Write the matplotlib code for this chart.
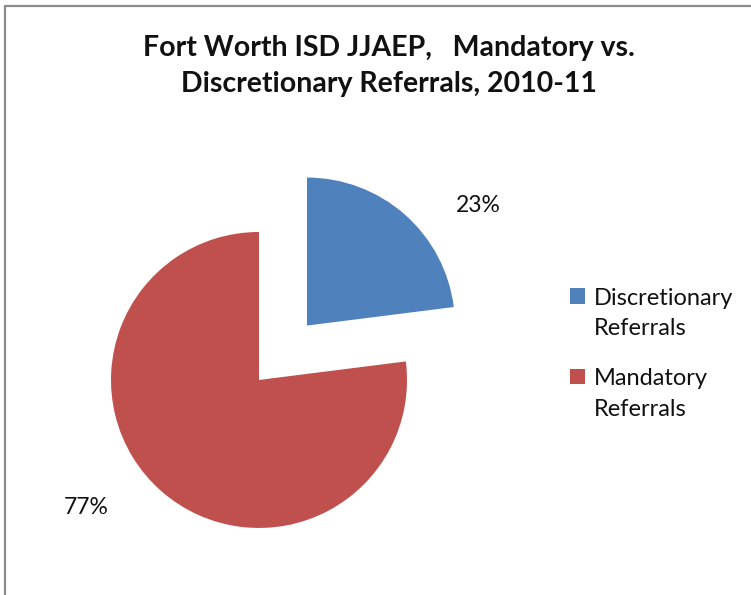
import matplotlib
matplotlib.use("Agg")
import matplotlib.pyplot as plt
from matplotlib.patches import Rectangle
from matplotlib.legend_handler import HandlerPatch

labels = ["Discretionary\nReferrals", "Mandatory\nReferrals"]
shares = [23, 77]
colors = ["#4F81BD", "#C0504D"]
explode = [0.49, 0.0]
title = "Fort Worth ISD JJAEP,   Mandatory vs.\nDiscretionary Referrals, 2010-11"

plt.rcParams["font.family"] = ["Lato", "DejaVu Sans"]

fig = plt.figure(figsize=(7.51, 5.95), dpi=100)

# chart frame (left and top edges visible, the rest is cropped off)
fig.patches.append(Rectangle((5 / 751, -0.1), 1.2, (595 - 6) / 595 + 0.1,
                             transform=fig.transFigure, fill=False,
                             edgecolor="#8c8c8c", linewidth=1.6))

ax = fig.add_axes([0.1084, 0.0629, 0.5518, 0.6965])
wedges, texts, autotexts = ax.pie(shares, colors=colors, explode=explode,
                                  startangle=90, counterclock=False,
                                  autopct="%d%%", radius=1.0,
                                  textprops=dict(fontsize=16.5, color="#111111"))
ax.set_xlim(-1.2, 1.6)
ax.set_ylim(-1.2, 1.6)
ax.set_aspect("equal")
ax.axis("off")

# Excel "best fit" label spots
autotexts[0].set_position((1.48, 1.18))
autotexts[1].set_position((-1.17, -0.865))

fig.text(0.518, 0.889, title, ha="center", va="center", fontsize=20.5,
         fontweight="bold", linespacing=1.45, color="#111111")


def top_square(legend, orig_handle, xdescent, ydescent, width, height, fontsize):
    # put the colour box next to the first line of a two-line label
    return Rectangle((-xdescent, -ydescent + 0.75 * fontsize), width, height)


leg = fig.legend(wedges, labels, loc="upper left", bbox_to_anchor=(0.759, 0.516),
                 frameon=False, fontsize=17, handlelength=0.64, handleheight=0.64,
                 handletextpad=0.35, labelspacing=1.23, borderaxespad=0,
                 borderpad=0, handler_map={w: HandlerPatch(patch_func=top_square)
                                           for w in wedges})
for t in leg.get_texts():
    t.set_linespacing(1.55)
    t.set_color("#111111")

fig.savefig("out.png", dpi=100)
